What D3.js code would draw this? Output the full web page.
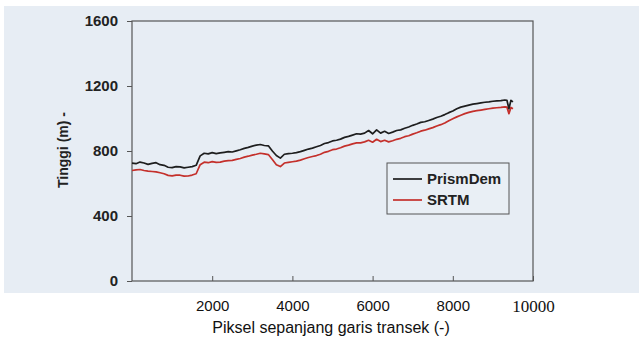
<!DOCTYPE html>
<html>
<head>
<meta charset="utf-8">
<script src="https://cdn.jsdelivr.net/npm/d3@7"></script>
<style>
  body { margin: 0; background: #fff; }
  svg { display: block; }
</style>
</head>
<body>
<div id="chart"></div>
<script>
// pixel index along the transect
const pixelIdx = [
  0, 100, 200, 300, 400, 500, 600, 700, 800, 900,
  1000, 1100, 1200, 1300, 1400, 1500, 1600, 1700, 1800, 1900,
  2000, 2100, 2200, 2300, 2400, 2500, 2600, 2700, 2800, 2900,
  3000, 3100, 3200, 3300, 3400, 3500, 3600, 3700, 3800, 3900,
  4000, 4100, 4200, 4300, 4400, 4500, 4600, 4700, 4800, 4900,
  5000, 5100, 5200, 5300, 5400, 5500, 5600, 5700, 5800, 5900,
  6000, 6100, 6200, 6300, 6400, 6500, 6600, 6700, 6800, 6900,
  7000, 7100, 7200, 7300, 7400, 7500, 7600, 7700, 7800, 7900,
  8000, 8100, 8200, 8300, 8400, 8500, 8600, 8700, 8800, 8900,
  9000, 9100, 9200, 9300, 9350, 9400, 9450, 9500];

const prismDem = [
  725, 722, 732, 726, 718, 724, 728, 716, 712, 700,
  698, 704, 702, 696, 700, 704, 712, 770, 786, 782,
  790, 784, 788, 792, 796, 794, 801, 808, 816, 822,
  830, 836, 840, 834, 832, 800, 772, 756, 780, 784,
  786, 790, 796, 804, 812, 818, 826, 834, 846, 852,
  862, 866, 873, 884, 890, 898, 906, 904, 910, 926,
  906, 930, 910, 921, 908, 916, 926, 930, 940, 948,
  958, 966, 976, 980, 988, 996, 1006, 1014, 1024, 1036,
  1046, 1060, 1070, 1076, 1082, 1088, 1092, 1096, 1100, 1102,
  1106, 1108, 1110, 1114, 1112, 1060, 1112, 1102];

const srtm = [
  680, 684, 686, 680, 676, 674, 672, 666, 660, 650,
  647, 652, 651, 645, 646, 652, 660, 716, 731, 728,
  735, 730, 732, 738, 741, 742, 748, 754, 762, 768,
  775, 780, 786, 782, 778, 748, 716, 704, 726, 730,
  734, 738, 744, 752, 760, 766, 772, 780, 792, 798,
  808, 812, 820, 830, 836, 844, 850, 850, 856, 866,
  854, 872, 858, 866, 856, 863, 872, 878, 888, 894,
  904, 912, 922, 928, 936, 944, 954, 962, 972, 986,
  998, 1010, 1020, 1030, 1038, 1044, 1048, 1052, 1056, 1060,
  1064, 1066, 1068, 1072, 1070, 1030, 1068, 1060];

const seriesNames = ["PrismDem", "SRTM"];
const seriesColors = ["#1e1e1e", "#c4302b"];
const yTicks = [0, 400, 800, 1200, 1600];
const xTicks = [2000, 4000, 6000, 8000, 10000];

const W = 639, H = 342;
const margin = { top: 21, right: 106, bottom: 61, left: 132 };
const sans = 'Liberation Sans, Arial, sans-serif';

const svg = d3.select('#chart').append('svg')
  .attr('width', W)
  .attr('height', H);

// scanned page background
svg.append('rect')
  .attr('x', 4).attr('y', 6)
  .attr('width', W - 4).attr('height', 287)
  .attr('fill', '#e7edf4');

const x = d3.scaleLinear()
  .domain([0, 10000])
  .range([margin.left, W - margin.right]);

const y = d3.scaleLinear()
  .domain([0, 1600])
  .range([H - margin.bottom, margin.top]);

// frame
svg.append('rect')
  .attr('x', x(0)).attr('y', y(1600))
  .attr('width', x(10000) - x(0)).attr('height', y(0) - y(1600))
  .attr('fill', 'none')
  .attr('stroke', '#555')
  .attr('stroke-width', 1.2);

// y axis
const yAxis = svg.append('g')
  .attr('transform', `translate(${x(0)},0)`)
  .call(d3.axisLeft(y).tickValues(yTicks).tickSize(5).tickFormat(d3.format('d')));
yAxis.select('.domain').remove();
yAxis.selectAll('line').attr('stroke', '#555');
yAxis.selectAll('text')
  .attr('x', -14)
  .style('font-family', sans)
  .style('font-size', '15px')
  .style('font-weight', 'bold')
  .attr('fill', '#222');

// x axis (ticks inside)
const xAxis = svg.append('g')
  .attr('transform', `translate(0,${y(0)})`)
  .call(d3.axisBottom(x).tickValues(xTicks).tickSize(-5).tickFormat(d3.format('d')));
xAxis.select('.domain').remove();
xAxis.selectAll('line').attr('stroke', '#555');
xAxis.selectAll('text')
  .attr('y', 19)
  .style('font-family', d => d === 10000 ? 'Liberation Serif, Times New Roman, serif' : sans)
  .style('font-size', d => d === 10000 ? '17px' : '15px')
  .attr('fill', '#111');

// axis titles
svg.append('text')
  .attr('x', 331)
  .attr('y', 333)
  .attr('text-anchor', 'middle')
  .style('font-family', sans)
  .style('font-size', '16px')
  .attr('fill', '#111')
  .text('Piksel sepanjang garis transek (-)');

svg.append('text')
  .attr('transform', 'translate(68,150) rotate(-90)')
  .attr('text-anchor', 'middle')
  .style('font-family', sans)
  .style('font-size', '14px')
  .style('font-weight', 'bold')
  .attr('fill', '#222')
  .text('Tinggi (m) -');

// lines
const line = d3.line()
  .x((d, i) => x(pixelIdx[i]))
  .y(d => y(d));

[[srtm, 1], [prismDem, 0]].forEach(([vals, idx]) => {
  svg.append('path')
    .datum(vals)
    .attr('d', line)
    .attr('fill', 'none')
    .attr('stroke', seriesColors[idx])
    .attr('stroke-width', 1.7)
    .attr('stroke-linejoin', 'round');
});

// legend
const lg = svg.append('g').attr('transform', 'translate(387,163)');
lg.append('rect')
  .attr('width', 122).attr('height', 51)
  .attr('fill', '#e9eff5')
  .attr('stroke', '#555')
  .attr('stroke-width', 1);
seriesNames.forEach((name, i) => {
  const ly = 16 + i * 21;
  lg.append('line')
    .attr('x1', 6).attr('x2', 35)
    .attr('y1', ly).attr('y2', ly)
    .attr('stroke', seriesColors[i])
    .attr('stroke-width', 1.7);
  lg.append('text')
    .attr('x', 40).attr('y', ly + 5)
    .style('font-family', sans)
    .style('font-size', '15px')
    .style('font-weight', 'bold')
    .attr('fill', '#222')
    .text(name);
});
</script>
</body>
</html>
